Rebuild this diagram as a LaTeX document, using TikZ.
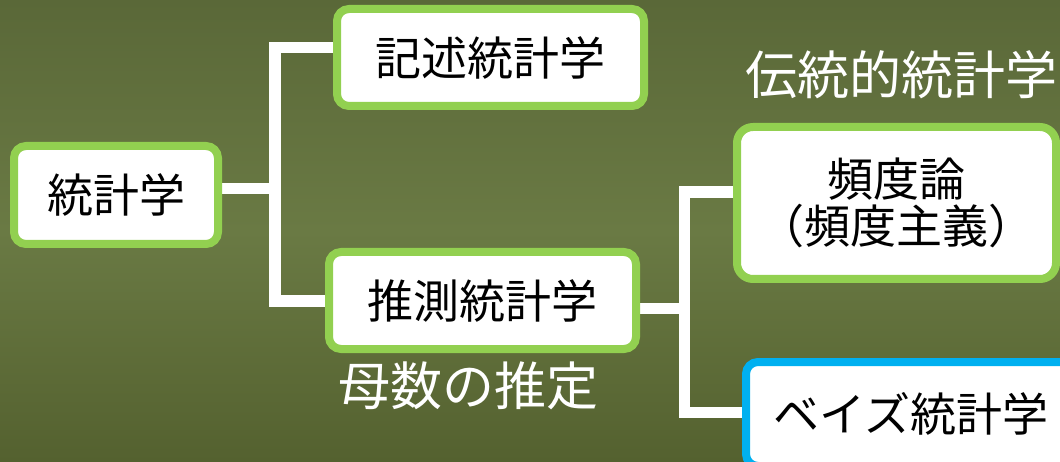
\documentclass[tikz,border=0pt]{standalone}
\usepackage{fontspec}
\setmainfont{Noto Sans CJK JP}
\pgfdeclarelayer{bgl}
\pgfdeclarelayer{conl}
\pgfsetlayers{bgl,conl,main}
\definecolor{boardtop}{HTML}{5A6838}
\definecolor{boardmid}{HTML}{6A7A44}
\definecolor{boardbot}{HTML}{54612F}
\definecolor{gborder}{HTML}{92D050}
\definecolor{bborder}{HTML}{00B0F0}
\begin{document}
\begin{tikzpicture}[x=1pt,y=-1pt,
  box/.style={draw=gborder, line width=8pt, fill=white, rounded corners=12pt,
    inner sep=0pt, text=black, align=center, font=\fontsize{46}{47}\selectfont},
  bluebox/.style={box, draw=bborder},
  conn/.style={draw=white, line width=11.5pt, line join=miter},
  note/.style={text=white, inner sep=0pt, font=\fontsize{52}{54}\selectfont}]
\useasboundingbox (0,0) rectangle (1060,462);
\begin{pgfonlayer}{bgl}
  \shade[top color=boardtop, bottom color=boardbot, middle color=boardmid]
    (0,0) rectangle (1060,462);
\end{pgfonlayer}

\node[box, minimum width=204pt, minimum height=98pt] (tokei) at (116,195) {統計学};
\node[box, minimum width=307pt, minimum height=97pt] (kijutsu) at (490.5,57.5) {記述統計学};
\node[box, minimum width=307pt, minimum height=97pt] (suisoku) at (482.5,300.5) {推測統計学};
\node[box, rounded corners=16pt, minimum width=319pt, minimum height=152pt] (hindo) at (896.5,203) {頻度論\\（頻度主義）};
\node[bluebox, minimum width=330pt, minimum height=104pt] (bayes) at (911,414) {ベイズ統計学};

\node[note] (dentou) at (745,74.5) [anchor=west] {伝統的統計学};
\node[note] (bosuu) at (468,385.5) {母数の推定};

\coordinate (j1top) at (275,47.5);
\coordinate (j1mid) at (275,188.5);
\coordinate (j1bot) at (275,301);
\coordinate (j2top) at (684.5,192);
\coordinate (j2mid) at (684.5,308.5);
\coordinate (j2bot) at (684.5,412.5);

\begin{pgfonlayer}{conl}
  \draw[conn] (kijutsu.west |- j1top) -- (j1top) -- (j1bot) -- (suisoku.west |- j1bot);
  \draw[conn] (tokei.east |- j1mid) -- (j1mid);
  \draw[conn] (hindo.west |- j2top) -- (j2top) -- (j2bot) -- (bayes.west |- j2bot);
  \draw[conn] (suisoku.east |- j2mid) -- (j2mid);
\end{pgfonlayer}
\end{tikzpicture}
\end{document}
